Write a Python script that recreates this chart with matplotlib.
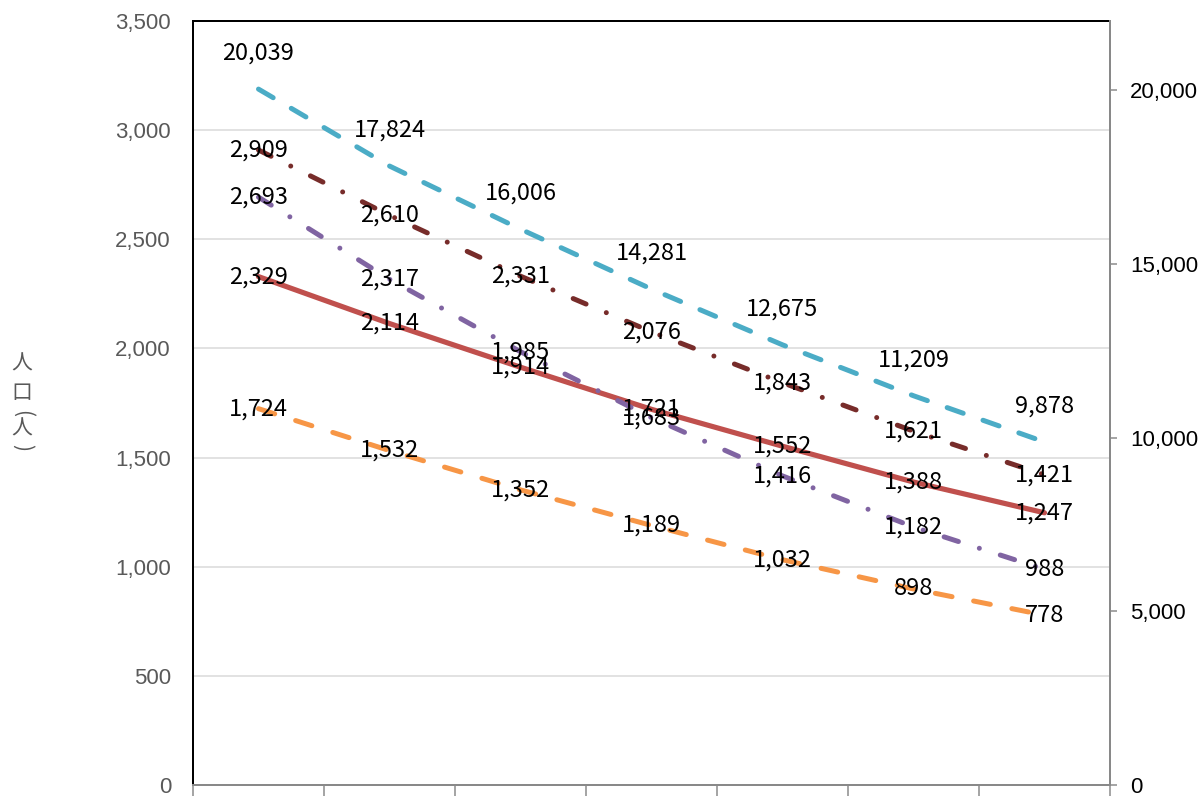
import matplotlib
matplotlib.use("Agg")
import matplotlib.pyplot as plt
from matplotlib.ticker import FuncFormatter, FixedLocator

plt.rcParams['font.family'] = ['Noto Sans CJK JP', 'DejaVu Sans']

# ---- data ----
categories = ["1", "2", "3", "4", "5", "6", "7"]
total_right = [20039, 17824, 16006, 14281, 12675, 11209, 9878]      # right axis (teal)
series_darkred = [2909, 2610, 2331, 2076, 1843, 1621, 1421]
series_purple = [2693, 2317, 1985, 1683, 1416, 1182, 988]
series_red = [2329, 2114, 1914, 1721, 1552, 1388, 1247]
series_orange = [1724, 1532, 1352, 1189, 1032, 898, 778]
left_ticks = [0, 500, 1000, 1500, 2000, 2500, 3000, 3500]
right_ticks = [0, 5000, 10000, 15000, 20000]
ylabel_chars = ["人", "口", "(", "人", ")"]

W, H = 1203, 796
fig = plt.figure(figsize=(W / 100, H / 100), dpi=100)
ax = fig.add_axes([193 / W, 11 / H, 917 / W, 764 / H])
ax2 = ax.twinx()

x = list(range(len(categories)))
PX = 0.72  # points per pixel

def px(v):
    return v * PX

LW = 5.0  # px

def dash(*pattern_px):
    return (0, tuple(p / LW for p in pattern_px))

# left-axis series
ax.plot(x, series_red, color='#C0504D', lw=px(5.2), solid_capstyle='round', zorder=3)
ax.plot(x, series_orange, color='#F79646', lw=px(LW), dash_capstyle='round',
        linestyle=dash(17, 22), zorder=3)
ax.plot(x, series_darkred, color='#772C2A', lw=px(LW), dash_capstyle='round',
        linestyle=dash(14, 22, 0.01, 22), zorder=3)
ax.plot(x, series_purple, color='#8064A2', lw=px(LW), dash_capstyle='round',
        linestyle=dash(15, 22, 0.01, 22), zorder=3)

# right-axis series
ax2.plot(x, total_right, color='#4BACC6', lw=px(LW), dash_capstyle='round',
         linestyle=dash(17, 21), zorder=3)

lab_fs = 17
fmt = lambda v: f"{v:,}"
for s in [series_darkred, series_purple, series_red, series_orange]:
    for xi, v in zip(x, s):
        ax.annotate(fmt(v), (xi, v), ha='center', va='center', fontsize=lab_fs,
                    color='black', zorder=5)
for xi, v in zip(x, total_right):
    ax2.annotate(fmt(v), (xi, v), xytext=(0, px(36)), textcoords='offset points',
                 ha='center', va='center', fontsize=lab_fs, color='black', zorder=5)

# axes limits
ax.set_xlim(-0.5, len(categories) - 0.5)
ax.set_ylim(0, 3500)
ax2.set_ylim(0, 22000)

# left axis
ax.yaxis.set_major_locator(FixedLocator(left_ticks))
ax.yaxis.set_major_formatter(FuncFormatter(lambda v, p: f"{int(v):,}"))
ax.tick_params(axis='y', length=0, pad=px(22), labelsize=16, labelcolor='#595959')
for lab in ax.get_yticklabels():
    lab.set_fontfamily(['Liberation Sans', 'DejaVu Sans'])
ax.grid(axis='y', color='#D9D9D9', lw=px(1.5), zorder=0)
ax.set_axisbelow(True)

# right axis
ax2.yaxis.set_major_locator(FixedLocator(right_ticks))
ax2.yaxis.set_major_formatter(FuncFormatter(lambda v, p: f"{int(v):,}"))
ax2.tick_params(axis='y', length=px(7), width=px(1.5), color='#898989', pad=px(13),
                labelsize=16, labelcolor='black')
for lab in ax2.get_yticklabels():
    lab.set_fontfamily(['Liberation Sans', 'DejaVu Sans'])

# x axis: boundary ticks only
bounds = [i - 0.5 for i in range(len(categories) + 1)]
ax.xaxis.set_major_locator(FixedLocator(bounds))
ax.set_xticklabels([])
ax.tick_params(axis='x', length=px(20), width=px(1.5), color='#898989', direction='out')
ax2.tick_params(axis='x', length=0)

# spines
for a in (ax, ax2):
    a.spines['left'].set_color('black')
    a.spines['left'].set_linewidth(px(2))
    a.spines['top'].set_color('black')
    a.spines['top'].set_linewidth(px(2))
    a.spines['right'].set_color('#898989')
    a.spines['right'].set_linewidth(px(2))
    a.spines['bottom'].set_color('#898989')
    a.spines['bottom'].set_linewidth(px(2))
ax2.spines['left'].set_visible(False)
ax2.spines['top'].set_visible(False)
ax2.spines['bottom'].set_visible(False)
ax.spines['right'].set_visible(False)

# y label (vertical stacked characters, parentheses turned to vertical form)
ypos = [364, 393, 413, 429, 448]
for ch, yp in zip(ylabel_chars, ypos):
    rot = -90 if ch in "()" else 0
    fig.text(22 / W, 1 - yp / H, ch, ha='center', va='center', fontsize=15,
             color='#595959', rotation=rot, family=['Noto Sans CJK JP', 'DejaVu Sans'])

fig.savefig("out.png", dpi=100)
